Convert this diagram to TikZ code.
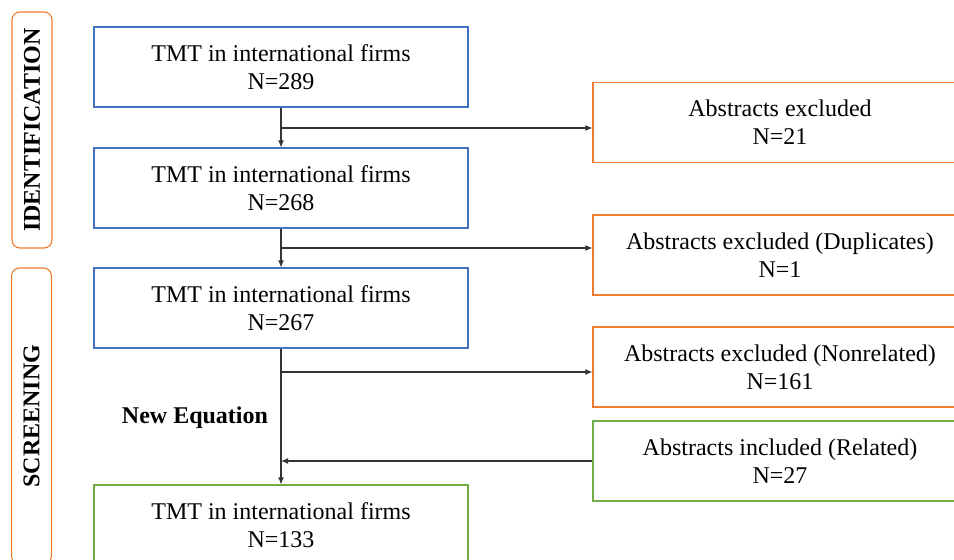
\documentclass[tikz,border=0pt]{standalone}
\usepackage{fontspec}
\setmainfont{Liberation Serif}
\usetikzlibrary{arrows.meta, positioning}
\definecolor{stageblue}{RGB}{68,114,196}
\definecolor{stageorange}{RGB}{237,125,49}
\definecolor{stagegreen}{RGB}{112,173,71}

\begin{document}
\begin{tikzpicture}[x = 1pt, y = -1pt,
        stagebox/.style = {draw, line width=1.1pt, minimum width=374pt, minimum height=80pt,
            inner sep=0pt, align=center, font=\fontsize{24}{28}\selectfont},
        phasebox/.style = {draw=stageorange, line width=1.1pt, rounded corners=8pt, rotate=90,
            minimum height=40pt, inner sep=0pt, font=\fontsize{24}{28}\selectfont\bfseries},
        flow/.style = {draw=black!80, line width=1.1pt, -{Latex[length=7pt,width=6pt]}}]

            \clip (0,0) rectangle (954,560);

            % phases on the left
            \node[phasebox, minimum width=236pt] (phaseId) at (32,130) {IDENTIFICATION};
            \node[phasebox, minimum width=296pt] (phaseScr) at (31.5,416) {SCREENING};

            % main column
            \node[stagebox, draw=stageblue] (tmtA) at (281,67) {TMT in international firms\\N=289};
            \node[stagebox, draw=stageblue] (tmtB) at (281,188) {TMT in international firms\\N=268};
            \node[stagebox, draw=stageblue] (tmtC) at (281,308) {TMT in international firms\\N=267};
            \node[stagebox, draw=stagegreen] (tmtD) at (281,525) {TMT in international firms\\N=133};

            % side column
            \node[stagebox, draw=stageorange] (absA) at (780,122.5) {Abstracts excluded\\N=21};
            \node[stagebox, draw=stageorange] (absB) at (780,255) {Abstracts excluded (Duplicates)\\N=1};
            \node[stagebox, draw=stageorange] (absC) at (780,367) {Abstracts excluded (Nonrelated)\\N=161};
            \node[stagebox, draw=stagegreen] (incD) at (780,461) {Abstracts included (Related)\\N=27};

            \node[font=\fontsize{24}{28}\selectfont\bfseries] (eqLabel) at (195,418) {New Equation};

            % branch points on the main line
            \coordinate (splitA) at (281,128);
            \coordinate (splitB) at (281,248);
            \coordinate (splitC) at (281,372);
            \coordinate (joinD) at (281,461);

            \draw[flow] (tmtA) -- (tmtB);
            \draw[flow] (tmtB) -- (tmtC);
            \draw[flow] (tmtC) -- (tmtD);

            \draw[flow] (splitA) -- (splitA -| absA.west);
            \draw[flow] (splitB) -- (splitB -| absB.west);
            \draw[flow] (splitC) -- (splitC -| absC.west);
            \draw[flow, line width=1.8pt] (incD) -- (joinD);
        \end{tikzpicture}
\end{document}
